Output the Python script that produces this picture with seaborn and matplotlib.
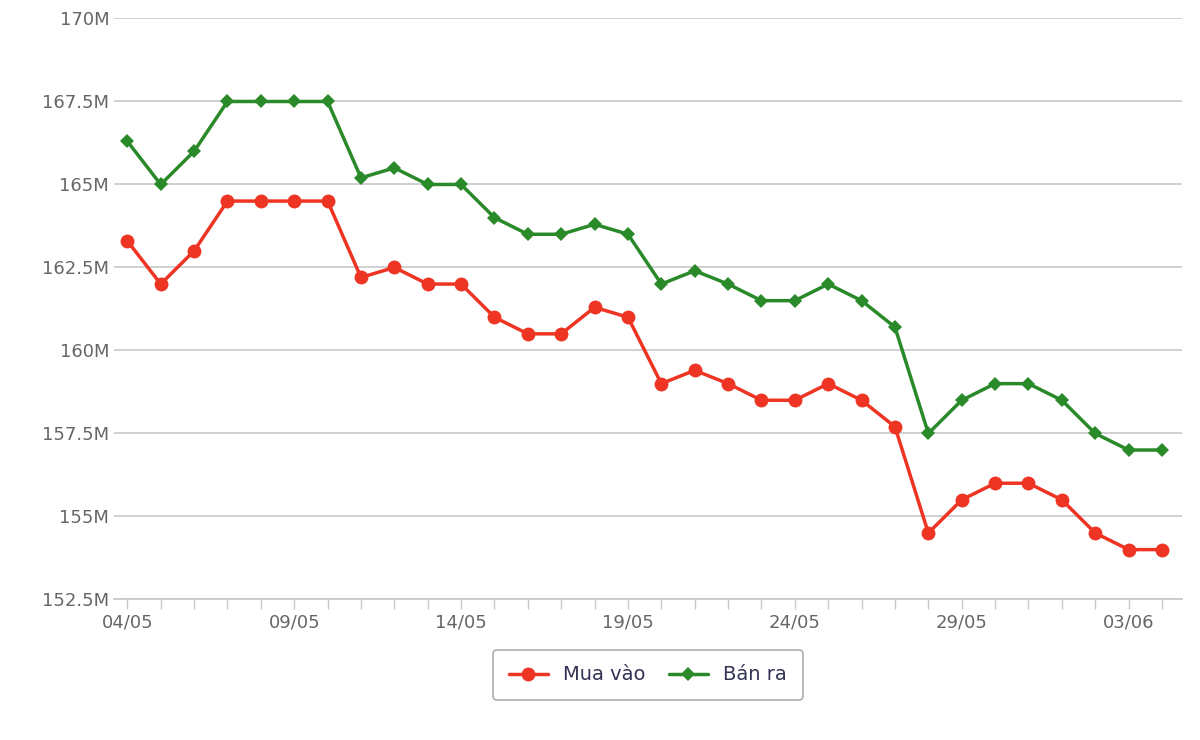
import matplotlib
matplotlib.use("Agg")
import matplotlib.pyplot as plt
import seaborn as sns
import pandas as pd
import numpy as np
from matplotlib.ticker import FixedLocator, FuncFormatter

dates = pd.date_range("2024-05-04", "2024-06-04", freq="D")
mua_vao = [163.3,162,163,164.5,164.5,164.5,164.5,162.2,162.5,162,162,161,160.5,160.5,161.3,161,
           159,159.4,159,158.5,158.5,159,158.5,157.7,154.5,155.5,156,156,155.5,154.5,154,154]
ban_ra = [166.3,165,166,167.5,167.5,167.5,167.5,165.2,165.5,165,165,164,163.5,163.5,163.8,163.5,
          162,162.4,162,161.5,161.5,162,161.5,160.7,157.5,158.5,159,159,158.5,157.5,157,157]
yticks = [152.5,155,157.5,160,162.5,165,167.5,170]
ylabels = ["152.5M","155M","157.5M","160M","162.5M","165M","167.5M","170M"]

sns.set_theme(style="white")
plt.rcParams['font.family'] = ['DejaVu Sans']
fig = plt.figure(figsize=(12, 7.4), dpi=100)
ax = fig.add_axes([0.095, 0.19, 0.89, 0.785])
x = np.arange(len(dates))
df = pd.DataFrame({"x": x, "Mua vào": mua_vao, "Bán ra": ban_ra})
sns.lineplot(data=df, x="x", y="Mua vào", ax=ax, color="#ee3524", lw=2.5, marker="o",
             markersize=10, markeredgewidth=0, label="Mua vào")
sns.lineplot(data=df, x="x", y="Bán ra", ax=ax, color="#2a8a2a", lw=2.5, marker="D",
             markersize=7, markeredgewidth=0, label="Bán ra")
ax.set_ylim(152.5, 170)
ax.set_xlim(-0.4, 31.6)
ax.set_yticks(yticks)
ax.set_yticklabels(ylabels)
ax.yaxis.grid(True, color="#c8c8c8", lw=1.2)
major = list(range(0, 32, 5))
ax.xaxis.set_major_locator(FixedLocator(major))
ax.xaxis.set_minor_locator(FixedLocator(list(range(0, 32))))
ax.set_xticklabels([dates[i].strftime("%d/%m") for i in major])
ax.tick_params(axis="x", which="both", direction="out", length=7, color="#c8c8c8", width=1, bottom=True)
ax.tick_params(axis="both", labelsize=13, labelcolor="#666666")
ax.tick_params(axis="y", length=0)
for s in ["top", "right", "left"]:
    ax.spines[s].set_visible(False)
ax.spines["bottom"].set_color("#c8c8c8")
ax.set_xlabel("")
ax.set_ylabel("")
leg = ax.legend(loc="upper center", bbox_to_anchor=(0.5, -0.07), ncol=2, fontsize=14,
                frameon=True, fancybox=True, edgecolor="#999999", borderpad=0.8,
                handlelength=2, columnspacing=1.2)
for t in leg.get_texts():
    t.set_color("#333355")
leg.get_frame().set_linewidth(1.2)
fig.savefig("out.png")
